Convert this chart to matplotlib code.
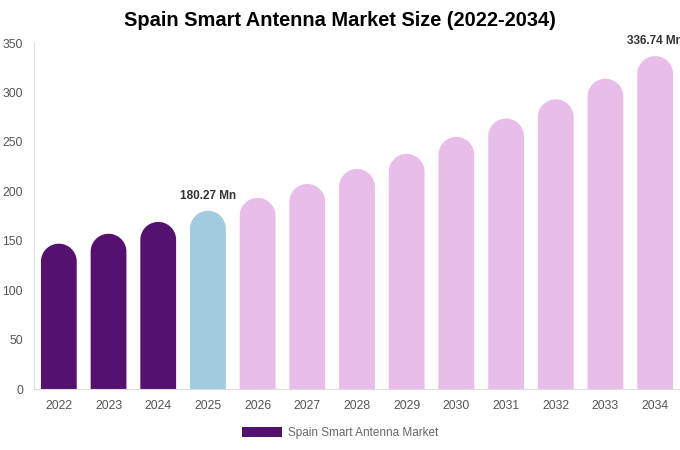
import matplotlib
matplotlib.use("Agg")
import numpy as np
import matplotlib.pyplot as plt
from matplotlib.patches import Polygon, Patch

years = ["2022", "2023", "2024", "2025", "2026", "2027", "2028", "2029", "2030", "2031", "2032", "2033", "2034"]
values = [147.0, 157.0, 169.0, 180.27, 193.3, 207.4, 222.5, 237.8, 255.0, 273.6, 293.0, 313.8, 336.74]
bar_colors = ["#541170"] * 3 + ["#A3CBE0"] + ["#E8BDE9"] * 9
labels = {3: "180.27 Mn", 12: "336.74 Mn"}
yticks = [0, 50, 100, 150, 200, 250, 300, 350]

plt.rcParams['font.family'] = ['Liberation Sans', 'DejaVu Sans']

fig = plt.figure(figsize=(6.8, 4.5), dpi=100)
ax = fig.add_axes([34/680, (450-389)/450, 646/680, (389-43)/450])
ax.set_xlim(-0.5, len(years) - 0.5)
ax.set_ylim(0, 350)

bw = 0.72
ax_h_px = (389 - 43)
ax_w_px = 646
rx = bw / 2
r_px = rx * ax_w_px / len(years)
ry = r_px * 350 / ax_h_px
t = np.linspace(0, np.pi, 60)

for i, (v, c) in enumerate(zip(values, bar_colors)):
    base = v - ry
    xs = np.concatenate([[i - rx], i + rx * np.cos(t[::-1]), [i + rx]])
    ys = np.concatenate([[0], base + ry * np.sin(t[::-1]), [0]])
    # order: bottom-left, arc from left to right, bottom-right
    xs = np.concatenate([[i - rx], i - rx * np.cos(t), [i + rx]])
    ys = np.concatenate([[0], base + ry * np.sin(t), [0]])
    ax.add_patch(Polygon(np.column_stack([xs, ys]), closed=True, facecolor=c,
                         edgecolor='none', linewidth=0))
    if i in labels:
        ax.text(i, v + 9, labels[i], ha='center', va='bottom', fontsize=8.5, fontweight='bold',
                color='#333333', clip_on=False)

ax.set_xticks(range(len(years)))
ax.set_xticklabels(years)
ax.set_yticks(yticks)
ax.tick_params(axis='both', length=0, labelsize=8.8, colors='#555555')
ax.tick_params(axis='x', pad=8)
ax.tick_params(axis='y', pad=8)
for s in ['top', 'right']:
    ax.spines[s].set_visible(False)
for s in ['left', 'bottom']:
    ax.spines[s].set_color('#DDDDDD')
    ax.spines[s].set_linewidth(0.8)

fig.suptitle("Spain Smart Antenna Market Size (2022-2034)", x=0.5, y=1 - 21/450, va='center',
             fontsize=14.4, fontweight='bold', color='#000000')

leg = fig.legend(handles=[Patch(facecolor='#541170', edgecolor='none')],
                 labels=["Spain Smart Antenna Market"], loc='center', bbox_to_anchor=(0.5, 1 - 433/450),
                 frameon=False, fontsize=8.5, handlelength=3.4, handleheight=1.0, handletextpad=0.5)
for tx in leg.get_texts():
    tx.set_color('#666666')

fig.savefig("out.png", dpi=100)
